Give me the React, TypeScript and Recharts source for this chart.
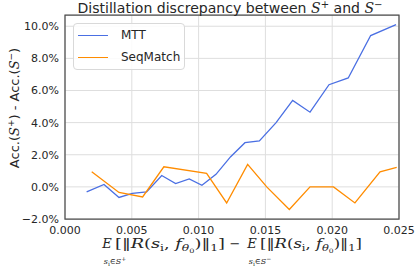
import React from 'react';
import {
  LineChart,
  Line,
  XAxis,
  YAxis,
  CartesianGrid,
  ReferenceArea,
} from 'recharts';

// MTT series (x = distillation discrepancy, y = accuracy gap in %)
const mttX = [
  0.00162, 0.00292, 0.00404, 0.00504, 0.00611, 0.00724, 0.00828, 0.0093, 0.01025, 0.0113,
  0.0124, 0.01347, 0.01455, 0.0158, 0.01704, 0.01834, 0.01976, 0.0212, 0.02288, 0.02478,
];
const mttY = [
  -0.31, 0.15, -0.66, -0.41, -0.31, 0.71, 0.21, 0.5, 0.1, 0.78,
  1.88, 2.75, 2.86, 4.0, 5.38, 4.65, 6.36, 6.78, 9.42, 10.1,
];

// SeqMatch series
const seqX = [
  0.002, 0.00404, 0.00581, 0.0074, 0.0106, 0.0121, 0.01367, 0.0151, 0.01679, 0.01834,
  0.0201, 0.0217, 0.02358, 0.02483,
];
const seqY = [0.94, -0.35, -0.63, 1.25, 0.84, -1.0, 1.4, 0, -1.41, 0, 0, -1.0, 0.94, 1.21];

const xTicks = [0, 0.005, 0.01, 0.015, 0.02, 0.025];
const yTicks = [-2, 0, 2, 4, 6, 8, 10];

const MTT_COLOR = '#4a6fe3';
const SEQ_COLOR = '#ff8c00';
const SANS = '"DejaVu Sans", sans-serif';
const SERIF = '"DejaVu Serif", "Liberation Serif", serif';
const INK = '#262626';

const mttData = mttX.map((x, i) => ({ x, y: mttY[i] }));
const seqData = seqX.map((x, i) => ({ x, y: seqY[i] }));

const fmtPct = (v: number) => (v < 0 ? '\u2212' : '') + Math.abs(v).toFixed(1) + '%';

const LABEL_Y = 248;

// one E_{s_i in S±}[||R(s_i, f_theta0)||_1] group
const ExpTerm = ({ ex, sign, endX }: { ex: number; sign: string; endX: number }) => (
  <g fill={INK} fontFamily={SERIF}>
    <text x={ex} y={LABEL_Y} fontSize={13} fontStyle="italic" textAnchor="middle">E</text>
    <text x={ex + 8} y={LABEL_Y + 16} fontSize={8} textAnchor="middle">
      <tspan fontStyle="italic">s</tspan>
      <tspan fontSize={6} dy={2}>i</tspan>
      <tspan dy={-2}>∈</tspan>
      <tspan fontStyle="italic">S</tspan>
      <tspan fontSize={6} dy={-3}>{sign}</tspan>
    </text>
    <text x={ex + 8} y={LABEL_Y} fontSize={13} textLength={endX - ex - 8} lengthAdjust="spacingAndGlyphs">
      <tspan>[‖</tspan>
      <tspan fontStyle="italic">R</tspan>
      <tspan>(</tspan>
      <tspan fontStyle="italic">s</tspan>
      <tspan fontSize={9} dy={3}>i</tspan>
      <tspan dy={-3}>, </tspan>
      <tspan fontStyle="italic">f</tspan>
      <tspan fontSize={9} fontStyle="italic" dy={3}>θ</tspan>
      <tspan fontSize={6} dy={2}>0</tspan>
      <tspan dy={-5}>)‖</tspan>
      <tspan fontSize={9} dy={3}>1</tspan>
      <tspan dy={-3}>]</tspan>
    </text>
  </g>
);

const XLabel = () => (
  <g>
    <ExpTerm ex={107} sign="+" endX={225} />
    <text x={235} y={LABEL_Y} fontSize={13} fontFamily={SERIF} fill={INK} textAnchor="middle">−</text>
    <ExpTerm ex={252} sign="−" endX={362} />
  </g>
);

const YLabel = () => (
  <text
    transform="translate(19,108) rotate(-90)"
    textAnchor="middle"
    fontSize={13}
    fill={INK}
    fontFamily={SANS}
  >
    <tspan>Acc.(</tspan>
    <tspan fontFamily={SERIF} fontStyle="italic">S</tspan>
    <tspan fontSize={9} dy={-5}>+</tspan>
    <tspan dy={5}>) - Acc.(</tspan>
    <tspan fontFamily={SERIF} fontStyle="italic">S</tspan>
    <tspan fontSize={9} dy={-5}>−</tspan>
    <tspan dy={5}>)</tspan>
  </text>
);

const LegendBox = () => (
  <div
    style={{
      position: 'absolute',
      left: 73,
      top: 23,
      width: 110,
      height: 45,
      border: '1px solid #d9d9d9',
      borderRadius: 4,
      background: 'rgba(255,255,255,0.85)',
      fontFamily: SANS,
      fontSize: 12,
      color: INK,
    }}
  >
    {[
      { label: 'MTT', color: MTT_COLOR, top: 3 },
      { label: 'SeqMatch', color: SEQ_COLOR, top: 25 },
    ].map((r) => (
      <div key={r.label} style={{ position: 'absolute', left: 4, top: r.top, height: 16, display: 'flex', alignItems: 'center' }}>
        <div style={{ width: 30, height: 0, borderTop: `1.5px solid ${r.color}` }} />
        <span style={{ marginLeft: 13, lineHeight: '16px' }}>{r.label}</span>
      </div>
    ))}
  </div>
);

export default function App() {
  return (
    <div style={{ position: 'fixed', left: 0, top: 0, width: 415, height: 266, background: '#fff' }}>
      <LineChart width={415} height={266} margin={{ top: 15, right: 16, left: 0, bottom: 0 }}>
        <CartesianGrid stroke="#dedede" strokeWidth={1} />
        <XAxis
          type="number"
          dataKey="x"
          domain={[0, 0.025]}
          ticks={xTicks}
          allowDataOverflow
          tickFormatter={(v: number) => v.toFixed(3)}
          tick={{ fontSize: 11, fill: INK, fontFamily: SANS }}
          tickLine={false}
          tickSize={0}
          tickMargin={7}
          axisLine={false}
          height={47}
        />
        <YAxis
          type="number"
          dataKey="y"
          domain={[-2, 10.7]}
          ticks={yTicks}
          allowDataOverflow
          tickFormatter={fmtPct}
          tick={{ fontSize: 11, fill: INK, fontFamily: SANS }}
          tickLine={false}
          tickSize={0}
          tickMargin={6}
          axisLine={false}
          width={65}
        />
        <Line
          data={mttData}
          dataKey="y"
          name="MTT"
          stroke={MTT_COLOR}
          strokeWidth={1.3}
          dot={false}
          isAnimationActive={false}
        />
        <Line
          data={seqData}
          dataKey="y"
          name="SeqMatch"
          stroke={SEQ_COLOR}
          strokeWidth={1.3}
          dot={false}
          isAnimationActive={false}
        />
        <ReferenceArea
          x1={0}
          x2={0.025}
          y1={-2}
          y2={10.7}
          fill="none"
          fillOpacity={0}
          stroke="#4d4d4d"
          strokeWidth={1.25}
          ifOverflow="visible"
        />
      </LineChart>
      <LegendBox />
      <svg width={415} height={266} style={{ position: 'absolute', left: 0, top: 0, pointerEvents: 'none' }}>
        <text x={230} y={13} textAnchor="middle" fontSize={14} fill={INK} fontFamily={SANS} textLength={305} lengthAdjust="spacingAndGlyphs">
          <tspan>Distillation discrepancy between </tspan>
          <tspan fontFamily={SERIF} fontStyle="italic">S</tspan>
          <tspan fontSize={10} dy={-5}>+</tspan>
          <tspan dy={5}> and </tspan>
          <tspan fontFamily={SERIF} fontStyle="italic">S</tspan>
          <tspan fontSize={10} dy={-5}>−</tspan>
        </text>
        <YLabel />
        <XLabel />
      </svg>
    </div>
  );
}
